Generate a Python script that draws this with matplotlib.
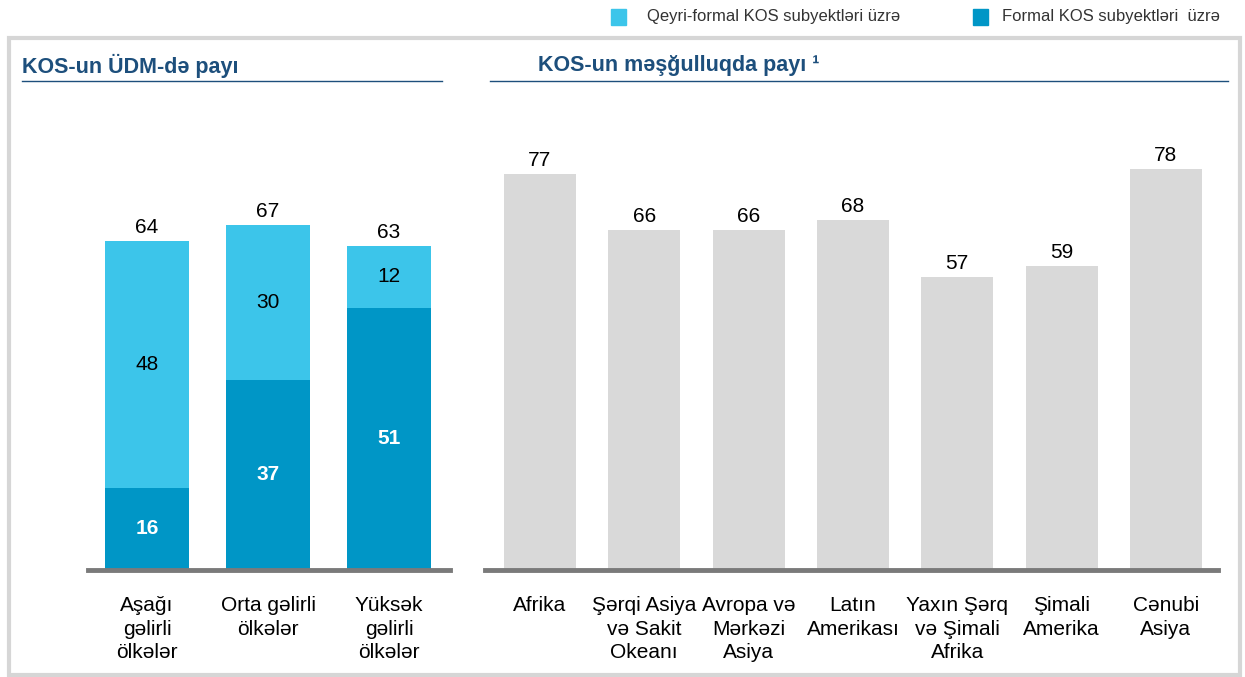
import numpy as np
import matplotlib.pyplot as plt
from matplotlib.patches import Rectangle
from matplotlib.lines import Line2D

plt.rcParams['font.family'] = ['Liberation Sans', 'DejaVu Sans']

# Left panel: share of SMEs in GDP
income_groups = ["Aşağı\ngəlirli\nölkələr", "Orta gəlirli\nölkələr", "Yüksək\ngəlirli\nölkələr"]
formal = [16, 37, 51]
informal = [48, 30, 12]
gdp_total = [64, 67, 63]

# Right panel: share of SMEs in employment
regions = ["Afrika", "Şərqi Asiya\nvə Sakit\nOkeanı", "Avropa və\nMərkəzi\nAsiya",
           "Latın\nAmerikası", "Yaxın Şərq\nvə Şimali\nAfrika", "Şimali\nAmerika", "Cənubi\nAsiya"]
employment = [77, 66, 66, 68, 57, 59, 78]

c_informal = "#3cc5ea"
c_formal = "#0096c6"
c_gray = "#d9d9d9"
c_title = "#1d4f7c"
c_base = "#7a7a7a"

W, H = 1245, 677
fig = plt.figure(figsize=(W / 100, H / 100), dpi=100)

def fx(px):
    return px / W

def fy(py):
    return 1 - py / H

# outer frame
fig.patches.append(Rectangle((fx(9), fy(675)), fx(1231), fy(38) - fy(675),
                             transform=fig.transFigure, fill=False,
                             edgecolor="#d6d6d6", lw=3))

ymax = 90
bottom = fy(570)
height = (570 - 107) / H
fs = 15

# left axes
ax1 = fig.add_axes([fx(88), bottom, fx(450 - 88), height])
x1 = np.arange(len(income_groups))
ax1.bar(x1, formal, width=0.7, color=c_formal)
ax1.bar(x1, informal, width=0.7, bottom=formal, color=c_informal)
for i in x1:
    ax1.text(i, formal[i] / 2, str(formal[i]), ha="center", va="center",
             color="white", fontsize=fs, fontweight="bold")
    ax1.text(i, formal[i] + informal[i] / 2, str(informal[i]), ha="center",
             va="center", color="black", fontsize=fs)
    ax1.text(i, gdp_total[i] + 0.8, str(gdp_total[i]), ha="center", va="bottom",
             color="black", fontsize=fs)
ax1.set_xlim(-0.488, 2.504)
ax1.set_ylim(0, ymax)
ax1.set_xticks(x1)
ax1.set_xticklabels(income_groups, fontsize=fs, linespacing=1.3, va="top")

# right axes
ax2 = fig.add_axes([fx(485), bottom, fx(1218 - 485), height])
x2 = np.arange(len(regions))
ax2.bar(x2, employment, width=0.69, color=c_gray)
for i in x2:
    ax2.text(i, employment[i] + 0.8, str(employment[i]), ha="center", va="bottom",
             color="black", fontsize=fs)
ax2.set_xlim(-0.527, 6.5)
ax2.set_ylim(0, ymax)
ax2.set_xticks(x2)
ax2.set_xticklabels(regions, fontsize=fs, linespacing=1.3, va="top")

for ax in (ax1, ax2):
    for s in ("top", "left", "right"):
        ax.spines[s].set_visible(False)
    ax.spines["bottom"].set_color(c_base)
    ax.spines["bottom"].set_linewidth(3.5)
    ax.set_yticks([])
    ax.tick_params(axis="x", length=0, pad=19)

# panel titles with underlines
fig.text(fx(22), fy(66), "KOS-un ÜDM-də payı", fontsize=15.5, fontweight="bold",
         color=c_title, va="center", ha="left")
fig.text(fx(538), fy(66), "KOS-un məşğulluqda payı ¹", fontsize=15.5, fontweight="bold",
         color=c_title, va="center", ha="left")
fig.add_artist(Line2D([fx(22), fx(442)], [fy(81), fy(81)], color=c_title, lw=1))
fig.add_artist(Line2D([fx(490), fx(1228)], [fy(81), fy(81)], color=c_title, lw=1))

# legend
fig.patches.append(Rectangle((fx(611), fy(25)), fx(15), fy(9) - fy(25),
                             transform=fig.transFigure, color=c_informal))
fig.text(fx(647), fy(17), "Qeyri-formal KOS subyektləri üzrə", fontsize=12,
         color="#333333", va="center")
fig.patches.append(Rectangle((fx(973), fy(25)), fx(15), fy(9) - fy(25),
                             transform=fig.transFigure, color=c_formal))
fig.text(fx(1002), fy(17), "Formal KOS subyektləri  üzrə", fontsize=12,
         color="#333333", va="center")

fig.savefig("out.png", dpi=100)
